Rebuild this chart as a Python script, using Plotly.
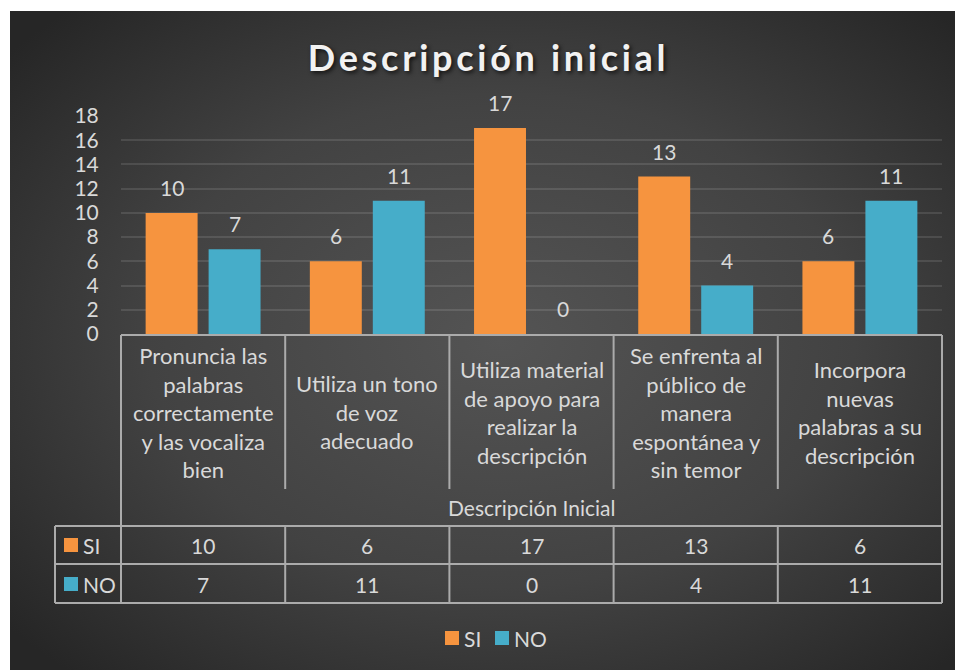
import base64
import plotly.graph_objects as go

# ---------------- data ----------------
category_lines = [
    ["Pronuncia las", "palabras", "correctamente", "y las vocaliza", "bien"],
    ["Utiliza un tono", "de voz", "adecuado"],
    ["Utiliza material", "de apoyo para", "realizar la", "descripción"],
    ["Se enfrenta al", "público de", "manera", "espontánea y", "sin temor"],
    ["Incorpora", "nuevas", "palabras a su", "descripción"],
]
categories = [" ".join(lines) for lines in category_lines]
group_label = "Descripción Inicial"
series_names = ["SI", "NO"]
si_values = [10, 6, 17, 13, 6]
no_values = [7, 11, 0, 4, 11]
y_ticks = [0, 2, 4, 6, 8, 10, 12, 14, 16, 18]
title_text = "Descripción inicial"

# ---------------- style ----------------
W, H = 955, 670
FONT = "Lato"
TXT = "#d9d9d9"
ORANGE = "#F6943F"
BLUE = "#46ADC9"
LINE = "#ababab"
colors = [ORANGE, BLUE]
values = [si_values, no_values]


def px(x):
    return x / W


def py(y):
    return 1 - y / H


X0, X1 = 121, 942
Y0_PIX, Y18_PIX = 334, 116

fig = go.Figure()
for name, vals, col in zip(series_names, values, colors):
    fig.add_trace(go.Bar(
        name=name, x=categories, y=vals,
        marker=dict(color=col, line=dict(width=0)),
        hoverinfo="x+y", showlegend=False,
    ))

# background radial gradient (svg image)
svg = (
    "<svg xmlns='http://www.w3.org/2000/svg' width='945' height='659' "
    "viewBox='0 0 945 659' preserveAspectRatio='none'>"
    "<defs><radialGradient id='g' cx='0.52' cy='0.5' r='0.68'>"
    "<stop offset='0' stop-color='#545454'/>"
    "<stop offset='0.55' stop-color='#424242'/>"
    "<stop offset='1' stop-color='#262626'/>"
    "</radialGradient></defs>"
    "<rect width='945' height='659' fill='url(#g)'/></svg>"
)
src = "data:image/svg+xml;base64," + base64.b64encode(svg.encode()).decode()

annotations = []
shapes = []

# data labels above bars
for vals, shift in zip(values, [-31.5, 31.5]):
    for c, v in zip(categories, vals):
        annotations.append(dict(
            x=c, y=v, xref="x", yref="y", text=str(v), showarrow=False,
            xshift=shift, yshift=11, yanchor="bottom",
            font=dict(family=FONT, size=21, color=TXT),
        ))

# category labels in table header
for c, lines in zip(categories, category_lines):
    annotations.append(dict(
        x=c, y=py(412), xref="x", yref="paper", text="<br>".join(lines),
        showarrow=False, yanchor="middle", align="center",
        font=dict(family=FONT, size=22, color=TXT),
    ))

# group label
annotations.append(dict(
    x=px((X0 + X1) / 2), y=py(507), xref="paper", yref="paper",
    text=group_label, showarrow=False, yanchor="middle",
    font=dict(family=FONT, size=21, color=TXT),
))

# table value rows
row_y = [545, 584]
for name, vals, col, ry in zip(series_names, values, colors, row_y):
    for c, v in zip(categories, vals):
        annotations.append(dict(
            x=c, y=py(ry), xref="x", yref="paper", text=str(v),
            showarrow=False, yanchor="middle",
            font=dict(family=FONT, size=21, color=TXT),
        ))
    annotations.append(dict(
        x=px(81), y=py(ry), xref="paper", yref="paper", text=name,
        showarrow=False, xanchor="left", yanchor="middle",
        font=dict(family=FONT, size=21, color=TXT),
    ))
    shapes.append(dict(
        type="rect", xref="paper", yref="paper",
        x0=px(64), x1=px(78), y0=py(ry - 7), y1=py(ry + 7),
        fillcolor=col, line=dict(width=0),
    ))

# bottom legend (keys + names)
legend_x = [445, 495]
for name, col, lx in zip(series_names, colors, legend_x):
    shapes.append(dict(
        type="rect", xref="paper", yref="paper",
        x0=px(lx), x1=px(lx + 14), y0=py(645), y1=py(631),
        fillcolor=col, line=dict(width=0),
    ))
    annotations.append(dict(
        x=px(lx + 17), y=py(638), xref="paper", yref="paper", text=name,
        showarrow=False, xanchor="left", yanchor="middle",
        font=dict(family=FONT, size=21, color=TXT),
    ))


def hline(y, xa, xb):
    shapes.append(dict(type="line", xref="paper", yref="paper",
                       x0=px(xa), x1=px(xb), y0=py(y), y1=py(y),
                       line=dict(color=LINE, width=2)))


def vline(x, ya, yb):
    shapes.append(dict(type="line", xref="paper", yref="paper",
                       x0=px(x), x1=px(x), y0=py(ya), y1=py(yb),
                       line=dict(color=LINE, width=2)))


col_w = (X1 - X0) / len(categories)
hline(335, X0, X1)
hline(526, 55, X1)
hline(564, 55, X1)
hline(603, 55, X1)
vline(X0, 335, 603)
vline(X1, 335, 603)
vline(55, 526, 603)
for i in range(1, len(categories)):
    vline(X0 + i * col_w, 335, 489)
    vline(X0 + i * col_w, 526, 603)

fig.update_layout(
    width=W, height=H, autosize=False,
    margin=dict(l=0, r=0, t=0, b=0, autoexpand=False),
    paper_bgcolor="white",
    plot_bgcolor="rgba(0,0,0,0)",
    barmode="group", bargap=0.233, bargroupgap=0.175,
    font=dict(family=FONT, color=TXT),
    title=dict(
        text=title_text, x=px(488.5), y=py(58), xanchor="center", yanchor="middle",
        xref="paper", yref="paper",
        font=dict(family=FONT, size=36, color="#f2f2f2", weight="bold",
                  shadow="2px 2px 4px rgba(0,0,0,0.7)"),
    ),
    xaxis=dict(
        domain=[px(X0), px(X1)], type="category", categoryorder="array",
        categoryarray=categories, showticklabels=False, showgrid=False,
        zeroline=False, showline=False, ticks="", automargin=False,
    ),
    yaxis=dict(
        domain=[py(Y0_PIX), py(Y18_PIX)], range=[0, 18], tickvals=y_ticks,
        showgrid=True, gridcolor="rgba(255,255,255,0.11)", gridwidth=1.5,
        zeroline=False, showline=False, automargin=False,
        ticks="outside", ticklen=17, tickcolor="rgba(0,0,0,0)",
        tickfont=dict(family=FONT, size=21, color=TXT),
    ),
    showlegend=False,
    images=[dict(
        source=src, xref="paper", yref="paper", x=px(10), y=py(11),
        sizex=1 - px(10), sizey=py(11),
        sizing="stretch", xanchor="left", yanchor="top", layer="below",
    )],
    annotations=annotations,
    shapes=shapes,
)

post = (
    "var h=document.documentElement,b=document.body;"
    "[h,b].forEach(function(e){e.style.margin='0';e.style.padding='0';"
    "e.style.overflow='hidden';});"
    "var sp=function(){document.querySelectorAll('.gtitle').forEach(function(t){"
    "t.style.letterSpacing='3.7px';});};"
    "var gd=document.getElementById('{plot_id}');"
    "sp(); if(gd && gd.on){gd.on('plotly_afterplot', sp);}"
)

fig.write_html("out.html", config={"displayModeBar": False}, post_script=post)
